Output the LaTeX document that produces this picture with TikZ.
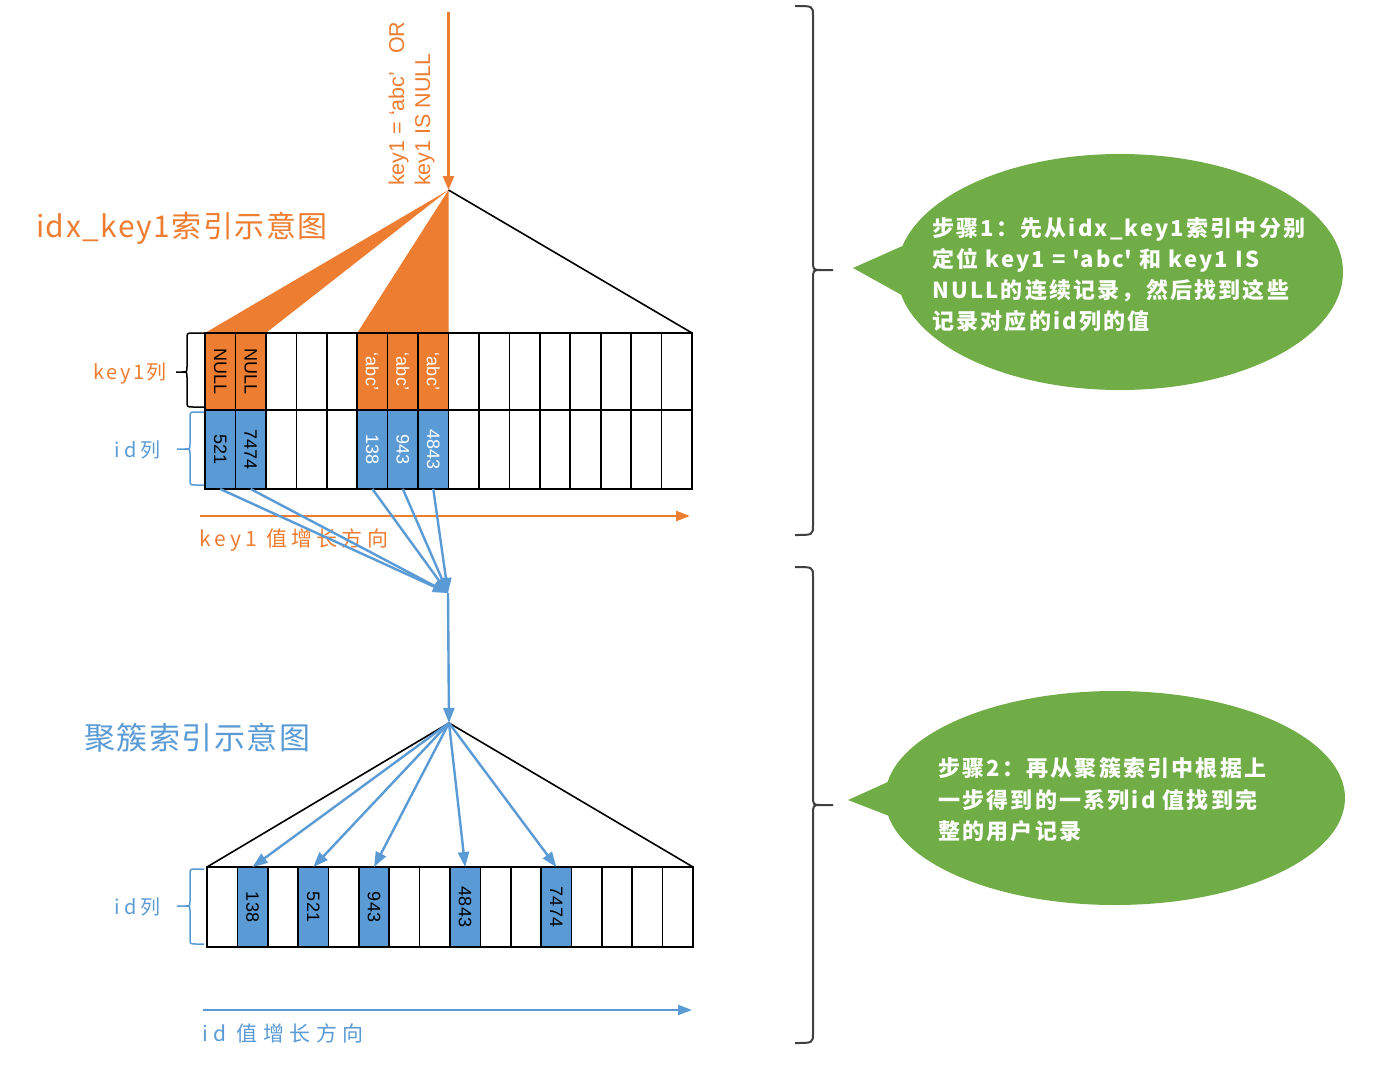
\documentclass[tikz,border=0pt]{standalone}
\usepackage{fontspec}
\setmainfont{Liberation Sans}
\newfontfamily\cjk{Noto Sans CJK SC}
\newfontfamily\cjkls[LetterSpace=12]{Noto Sans CJK SC}
\newfontfamily\cjkbub[LetterSpace=10]{Noto Sans CJK SC}
\newfontfamily\cjkti[LetterSpace=5]{Noto Sans CJK SC}
\newfontfamily\cjkax[LetterSpace=20]{Noto Sans CJK SC}
\newfontfamily\cjkaxw[LetterSpace=26]{Noto Sans CJK SC}
\usetikzlibrary{arrows.meta}
\definecolor{ora}{HTML}{ED7D31}
\definecolor{blu}{HTML}{5B9BD5}
\definecolor{grn}{HTML}{70AD47}
\definecolor{brc}{HTML}{404040}
\pgfdeclarelayer{bg}
\pgfsetlayers{bg,main}
\begin{document}
\begin{tikzpicture}[x=1pt,y=-1pt,
  cell/.style={draw=black,line width=1.6pt,inner sep=0pt,outer sep=0pt,anchor=north west,
    minimum width=30.44pt,font=\fontsize{18}{18}\selectfont},
  lcell/.style={cell,minimum width=30.375pt,minimum height=80pt},
  krow/.style={cell,minimum height=77pt},
  irow/.style={cell,minimum height=79pt},
  bluearrow/.style={blu,line width=2.4pt,-{Triangle[length=15pt,width=11pt]}},
  bubtext/.style={anchor=base west,inner sep=0pt,text=white,font=\cjkbub\bfseries\fontsize{22}{22}\selectfont},
  brace/.style={brc,line width=2pt}
]
\useasboundingbox (0,0) rectangle (1374,1073);

% ---------- upper index (idx_key1) ----------
\foreach \i in {2,3,4,8,9,...,15} {
  \node[krow] (uk\i) at ({205+30.44*\i},333) {};
  \node[irow] (ui\i) at ({205+30.44*\i},410) {};
}
\node[krow,fill=ora] (uk0) at ({205+30.44*0},333) {\rotatebox{-90}{NULL}};
\node[krow,fill=ora] (uk1) at ({205+30.44*1},333) {\rotatebox{-90}{NULL}};
\node[krow,fill=ora,text=white] (uk5) at ({205+30.44*5},333) {\rotatebox{-90}{`abc'}};
\node[krow,fill=ora,text=white] (uk6) at ({205+30.44*6},333) {\rotatebox{-90}{`abc'}};
\node[krow,fill=ora,text=white] (uk7) at ({205+30.44*7},333) {\rotatebox{-90}{`abc'}};
\node[irow,fill=blu] (ui0) at ({205+30.44*0},410) {\rotatebox{-90}{521}};
\node[irow,fill=blu] (ui1) at ({205+30.44*1},410) {\rotatebox{-90}{7474}};
\node[irow,fill=blu,text=white] (ui5) at ({205+30.44*5},410) {\rotatebox{-90}{138}};
\node[irow,fill=blu,text=white] (ui6) at ({205+30.44*6},410) {\rotatebox{-90}{943}};
\node[irow,fill=blu,text=white] (ui7) at ({205+30.44*7},410) {\rotatebox{-90}{4843}};

\coordinate (apexA) at (448.5,190);
\coordinate (qstart) at (448.5,12);
\begin{pgfonlayer}{bg}
  \fill[ora] (apexA) -- (uk0.north west) -- (uk1.north east) -- cycle;
  \fill[ora] (apexA) -- (uk5.north west) -- (uk7.north east) -- cycle;
\end{pgfonlayer}
\draw[line width=1.6pt] (apexA) -- (uk15.north east);
\draw[ora,line width=2.2pt,-{Triangle[length=14pt,width=11pt]}] (qstart) -- (apexA);

\node[rotate=90,anchor=base west,inner sep=0pt,text=ora,font=\fontsize{21.5}{21.5}\selectfont] (q1) at (404,186) {key1 = `abc'\ \ \ OR};
\node[rotate=90,anchor=base west,inner sep=0pt,text=ora,font=\fontsize{21.5}{21.5}\selectfont] (q2) at (430,186) {key1 IS NULL};

\node[anchor=west,inner sep=0pt,text=ora,font=\cjkti\fontsize{30}{30}\selectfont] (t1) at (36,228) {idx\_key1索引示意图};

% left braces
\draw[line width=1.5pt] (205,333) -- (193,333) .. controls (187,333) .. (187,339) -- (187,367) .. controls (187,372) .. (182,372) -- (176,372)
  (182,372) .. controls (187,372) .. (187,377) -- (187,401) .. controls (187,407) .. (193,407) -- (204,407);
\draw[blu,line width=1.5pt] (204,412) -- (196,412) .. controls (190,412) .. (190,418) -- (190,444) .. controls (190,449) .. (185,449) -- (177,449)
  (185,449) .. controls (190,449) .. (190,454) -- (190,479) .. controls (190,485) .. (196,485) -- (204,485);
\node[anchor=east,inner sep=0pt,text=ora,font=\cjkls\fontsize{20}{20}\selectfont] (lk) at (167,373) {key1列};
\node[anchor=east,inner sep=0pt,text=blu,font=\cjkax\fontsize{20}{20}\selectfont] (li) at (161,450) {id列};

% key1 direction
\coordinate (ka) at (200,516);
\coordinate (kb) at (690,516);
\draw[ora,line width=2.4pt,-{Triangle[length=14pt,width=10pt]}] (ka) -- (kb);
\node[anchor=west,inner sep=0pt,text=ora,font=\cjkax\fontsize{21}{21}\selectfont] (kl) at (199,540) {key1 值增长方向};

% converging arrows
\coordinate (conv) at (448,593);
\coordinate (apexB) at (449,723);
\foreach \n in {ui0,ui1,ui5,ui6,ui7} \draw[bluearrow] (\n.south) -- (conv);
\draw[bluearrow] (conv) -- (apexB);

% ---------- lower clustered index ----------
\foreach \i in {0,2,4,6,7,9,10,12,13,14,15} {
  \node[lcell] (l\i) at ({207+30.375*\i},867) {};
}
\node[lcell,fill=blu] (l1) at ({207+30.375*1},867) {\rotatebox{-90}{138}};
\node[lcell,fill=blu] (l3) at ({207+30.375*3},867) {\rotatebox{-90}{521}};
\node[lcell,fill=blu] (l5) at ({207+30.375*5},867) {\rotatebox{-90}{943}};
\node[lcell,fill=blu] (l8) at ({207+30.375*8},867) {\rotatebox{-90}{4843}};
\node[lcell,fill=blu] (l11) at ({207+30.375*11},867) {\rotatebox{-90}{7474}};

\draw[line width=1.6pt] (l0.north west) -- (apexB) -- (l15.north east);
\foreach \n in {l1,l3,l5,l8,l11} \draw[bluearrow] (apexB) -- (\n.north);

\node[anchor=west,inner sep=0pt,text=blu,font=\cjkti\fontsize{31}{31}\selectfont] (t2) at (84,738) {聚簇索引示意图};

\draw[blu,line width=1.5pt] (204,869) -- (196,869) .. controls (190,869) .. (190,875) -- (190,901) .. controls (190,906) .. (185,906) -- (177,906)
  (185,906) .. controls (190,906) .. (190,911) -- (190,938) .. controls (190,944) .. (196,944) -- (204,944);
\node[anchor=east,inner sep=0pt,text=blu,font=\cjkax\fontsize{20}{20}\selectfont] (li2) at (161,907) {id列};

\coordinate (ia) at (203,1010);
\coordinate (ib) at (692,1010);
\draw[blu,line width=2.4pt,-{Triangle[length=14pt,width=10pt]}] (ia) -- (ib);
\node[anchor=west,inner sep=0pt,text=blu,font=\cjkaxw\fontsize{21}{21}\selectfont] (il) at (202,1033) {id 值增长方向};

% ---------- right braces ----------
\draw[brace] (795,6) .. controls (813,6) .. (813,16) -- (813,260) .. controls (813,270) .. (821,270) -- (833,270)
  (821,270) .. controls (813,270) .. (813,280) -- (813,525) .. controls (813,535) .. (795,535);
\draw[brace] (795,567) .. controls (813,567) .. (813,577) -- (813,795) .. controls (813,805) .. (821,805) -- (833,805)
  (821,805) .. controls (813,805) .. (813,815) -- (813,1033) .. controls (813,1043) .. (795,1043);

% ---------- bubbles ----------
\fill[grn] (1120,272) ellipse [x radius=223, y radius=118];
\coordinate (tipA) at (853,268);
\fill[grn] (tipA) -- (925,236) -- (925,308) -- cycle;
\fill[grn] (1115,798) ellipse [x radius=230, y radius=107];
\coordinate (tipB) at (848,800);
\fill[grn] (tipB) -- (910,772) -- (915,826) -- cycle;

\node[bubtext] (b11) at (932,236) {步骤1：先从idx\_key1索引中分别};
\node[bubtext] (b12) at (932,267) {定位 key1 = \textquotesingle abc\textquotesingle{} 和 key1 IS};
\node[bubtext] (b13) at (932,298) {NULL的连续记录，然后找到这些};
\node[bubtext] (b14) at (932,329) {记录对应的id列的值};

\node[bubtext] (b21) at (938,776) {步骤2：再从聚簇索引中根据上};
\node[bubtext] (b22) at (938,808) {一步得到的一系列id 值找到完};
\node[bubtext] (b23) at (938,839) {整的用户记录};
\end{tikzpicture}
\end{document}
